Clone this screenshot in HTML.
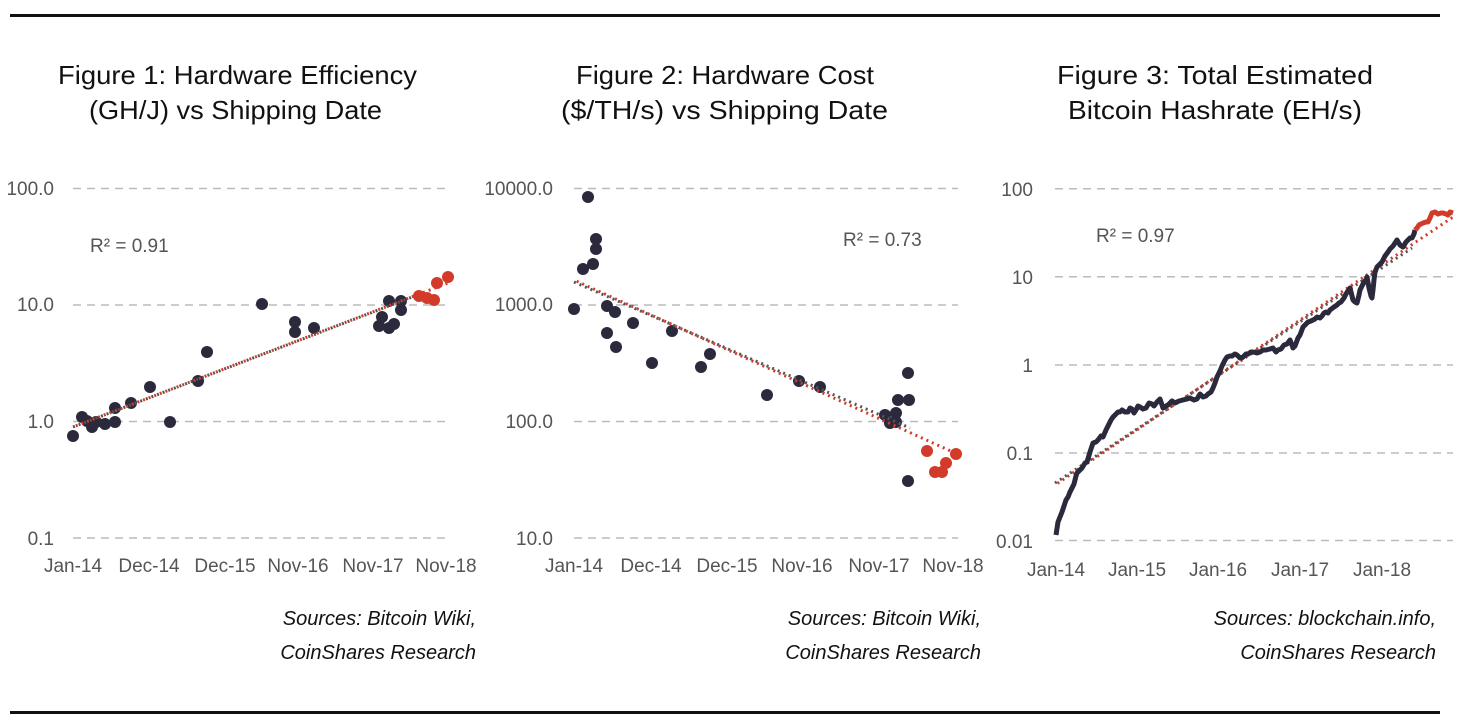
<!DOCTYPE html>
<html><head><meta charset="utf-8"><style>
html,body{margin:0;padding:0;background:#fff;}
svg{display:block;font-family:"Liberation Sans",sans-serif;}
.t{font-size:26px;fill:#111;}
.k{font-size:19px;fill:#555;}
.s{font-size:20px;fill:#111;font-style:italic;}
.g{stroke:#bbb;stroke-width:1.5;stroke-dasharray:8,6;}
.d{fill:#2b2a3d;}
.r{fill:#d23b2a;}
</style></head><body>
<svg width="1462" height="728" viewBox="0 0 1462 728">
<line x1="10" y1="15.5" x2="1440" y2="15.5" stroke="#111" stroke-width="3"/>
<line x1="10" y1="712.5" x2="1440" y2="712.5" stroke="#111" stroke-width="3"/>

<text class="t" x="58" y="84" textLength="359" lengthAdjust="spacingAndGlyphs">Figure 1: Hardware Efficiency</text>
<text class="t" x="89" y="119" textLength="293" lengthAdjust="spacingAndGlyphs">(GH/J) vs Shipping Date</text>
<text class="t" x="576" y="84" textLength="298" lengthAdjust="spacingAndGlyphs">Figure 2: Hardware Cost</text>
<text class="t" x="561" y="119" textLength="327" lengthAdjust="spacingAndGlyphs">($/TH/s) vs Shipping Date</text>
<text class="t" x="1057" y="84" textLength="316" lengthAdjust="spacingAndGlyphs">Figure 3: Total Estimated</text>
<text class="t" x="1068" y="119" textLength="294" lengthAdjust="spacingAndGlyphs">Bitcoin Hashrate (EH/s)</text>

<g>
<line class="g" x1="73" y1="188.5" x2="450" y2="188.5"/>
<line class="g" x1="73" y1="305" x2="450" y2="305"/>
<line class="g" x1="73" y1="421.5" x2="450" y2="421.5"/>
<line class="g" x1="73" y1="538" x2="450" y2="538"/>
<g class="k" text-anchor="end">
<text x="54" y="195">100.0</text><text x="54" y="311">10.0</text><text x="54" y="428">1.0</text><text x="54" y="545">0.1</text>
</g>
<g class="k" text-anchor="middle">
<text x="73" y="572">Jan-14</text><text x="149" y="572">Dec-14</text><text x="225" y="572">Dec-15</text><text x="298" y="572">Nov-16</text><text x="373" y="572">Nov-17</text><text x="446" y="572">Nov-18</text>
</g>
<text class="k" x="90" y="252">R² = 0.91</text>
<g class="d">
<circle cx="73" cy="436" r="6"/><circle cx="82" cy="417" r="6"/><circle cx="87" cy="421" r="6"/><circle cx="92" cy="427" r="6"/><circle cx="96" cy="422" r="6"/><circle cx="105" cy="424" r="6"/><circle cx="115" cy="408" r="6"/><circle cx="115" cy="422" r="6"/><circle cx="131" cy="403" r="6"/><circle cx="150" cy="387" r="6"/><circle cx="170" cy="422" r="6"/><circle cx="198" cy="381" r="6"/><circle cx="207" cy="352" r="6"/><circle cx="262" cy="304" r="6"/><circle cx="295" cy="322" r="6"/><circle cx="295" cy="332" r="6"/><circle cx="314" cy="328" r="6"/><circle cx="379" cy="326" r="6"/><circle cx="382" cy="317" r="6"/><circle cx="389" cy="328" r="6"/><circle cx="394" cy="324" r="6"/><circle cx="389" cy="301" r="6"/><circle cx="401" cy="301" r="6"/><circle cx="401" cy="310" r="6"/>
</g>
<line x1="73" y1="427" x2="420" y2="294" stroke="#555" stroke-width="3" stroke-dasharray="2,4"/>
<line x1="73" y1="427" x2="448" y2="283" stroke="#d23b2a" stroke-width="3" stroke-dasharray="2,4" stroke-dashoffset="3"/>
<g class="r">
<circle cx="419" cy="296" r="6"/><circle cx="427" cy="298" r="6"/><circle cx="434" cy="300" r="6"/><circle cx="437" cy="283" r="6"/><circle cx="448" cy="277" r="6"/>
</g>
<text class="s" x="476" y="625" text-anchor="end">Sources: Bitcoin Wiki,</text>
<text class="s" x="476" y="659" text-anchor="end">CoinShares Research</text>
</g>

<g>
<line class="g" x1="574" y1="188.5" x2="958" y2="188.5"/>
<line class="g" x1="574" y1="305" x2="958" y2="305"/>
<line class="g" x1="574" y1="421.5" x2="958" y2="421.5"/>
<line class="g" x1="574" y1="538" x2="958" y2="538"/>
<g class="k" text-anchor="end">
<text x="553" y="195">10000.0</text><text x="553" y="311">1000.0</text><text x="553" y="428">100.0</text><text x="553" y="545">10.0</text>
</g>
<g class="k" text-anchor="middle">
<text x="574" y="572">Jan-14</text><text x="651" y="572">Dec-14</text><text x="727" y="572">Dec-15</text><text x="802" y="572">Nov-16</text><text x="879" y="572">Nov-17</text><text x="953" y="572">Nov-18</text>
</g>
<text class="k" x="843" y="246">R² = 0.73</text>
<g class="d">
<circle cx="574" cy="309" r="6"/><circle cx="583" cy="269" r="6"/><circle cx="588" cy="197" r="6"/><circle cx="593" cy="264" r="6"/><circle cx="596" cy="249" r="6"/><circle cx="596" cy="239" r="6"/><circle cx="607" cy="306" r="6"/><circle cx="615" cy="312" r="6"/><circle cx="607" cy="333" r="6"/><circle cx="616" cy="347" r="6"/><circle cx="633" cy="323" r="6"/><circle cx="652" cy="363" r="6"/><circle cx="672" cy="331" r="6"/><circle cx="701" cy="367" r="6"/><circle cx="710" cy="354" r="6"/><circle cx="767" cy="395" r="6"/><circle cx="799" cy="381" r="6"/><circle cx="820" cy="387" r="6"/><circle cx="885" cy="415" r="6"/><circle cx="890" cy="423" r="6"/><circle cx="896" cy="413" r="6"/><circle cx="896" cy="422" r="6"/><circle cx="898" cy="400" r="6"/><circle cx="909" cy="400" r="6"/><circle cx="908" cy="373" r="6"/><circle cx="908" cy="481" r="6"/>
</g>
<line x1="574" y1="282" x2="910" y2="428" stroke="#555" stroke-width="3" stroke-dasharray="2,4"/>
<line x1="574" y1="280" x2="955" y2="453" stroke="#d23b2a" stroke-width="3" stroke-dasharray="2,4" stroke-dashoffset="3"/>
<g class="r">
<circle cx="927" cy="451" r="6"/><circle cx="935" cy="472" r="6"/><circle cx="942" cy="472" r="6"/><circle cx="946" cy="463" r="6"/><circle cx="956" cy="454" r="6"/>
</g>
<text class="s" x="981" y="625" text-anchor="end">Sources: Bitcoin Wiki,</text>
<text class="s" x="981" y="659" text-anchor="end">CoinShares Research</text>
</g>

<g>
<line class="g" x1="1055" y1="188.7" x2="1453" y2="188.7"/>
<line class="g" x1="1055" y1="276.7" x2="1453" y2="276.7"/>
<line class="g" x1="1055" y1="365" x2="1453" y2="365"/>
<line class="g" x1="1055" y1="453" x2="1453" y2="453"/>
<line class="g" x1="1055" y1="540.5" x2="1453" y2="540.5"/>
<g class="k" text-anchor="end">
<text x="1033" y="196">100</text><text x="1033" y="284">10</text><text x="1033" y="372">1</text><text x="1033" y="460">0.1</text><text x="1033" y="548">0.01</text>
</g>
<g class="k" text-anchor="middle">
<text x="1056" y="576">Jan-14</text><text x="1137" y="576">Jan-15</text><text x="1218" y="576">Jan-16</text><text x="1300" y="576">Jan-17</text><text x="1382" y="576">Jan-18</text>
</g>
<text class="k" x="1096" y="242">R² = 0.97</text>
<line x1="1055" y1="483" x2="1412" y2="248" stroke="#555" stroke-width="3" stroke-dasharray="2,4"/>
<line x1="1055" y1="485" x2="1453" y2="217" stroke="#d23b2a" stroke-width="3" stroke-dasharray="2,4" stroke-dashoffset="3"/>
<polyline fill="none" stroke="#2b2a3d" stroke-width="5" stroke-linejoin="round" points="1056,535 1058,522 1060,517 1062,512 1064,506 1066,500 1068,497 1070,492 1071,490 1073,486 1074,484 1076,476 1077,473 1080,470 1082,468 1085,463 1087,462 1090,452 1093,443 1096,442 1098,440 1101,436 1103,437 1106,430 1108,426 1111,420 1113,417 1116,414 1118,412 1120,412 1122,410 1125,412 1128,412 1130,408 1132,409 1134,413 1136,410 1138,406 1140,407 1143,409 1146,408 1149,403 1152,404 1154,406 1157,402 1160,399 1163,408 1166,406 1168,405 1172,401 1175,403 1179,401 1183,400 1187,399 1190,398 1194,400 1197,399 1200,394 1203,397 1206,396 1208,394 1211,392 1213,388 1215,383 1217,377 1220,371 1222,366 1225,360 1227,357 1230,356 1232,356 1235,354 1237,355 1240,358 1243,357 1246,354 1248,354 1251,352 1253,352 1257,353 1260,352 1263,350 1266,350 1270,349 1273,348 1276,352 1278,350 1281,349 1284,345 1287,344 1290,340 1293,348 1295,346 1298,338 1300,335 1303,327 1306,324 1308,322 1311,321 1313,320 1315,319 1317,317 1320,318 1322,316 1324,313 1326,312 1328,313 1330,310 1334,307 1337,305 1339,303 1341,302 1344,298 1346,294 1348,291 1350,288 1352,296 1353,300 1355,302 1357,303 1359,295 1360,290 1362,286 1364,282 1366,280 1367,277 1369,288 1370,292 1371,296 1372,298 1373,290 1374,280 1375,272 1377,267 1380,264 1382,262 1385,256 1388,252 1390,249 1393,246 1395,243 1397,240 1400,245 1403,247 1406,242 1408,240 1410,238 1412,238 1414,234 1415,230"/>
<polyline fill="none" stroke="#d23b2a" stroke-width="5" stroke-linejoin="round" points="1415,230 1417,228 1419,225 1421,224 1423,223 1426,222 1428,222 1430,218 1432,213 1435,212 1438,214 1441,213 1443,213 1446,214 1448,215 1450,212 1453,213"/>
<text class="s" x="1436" y="625" text-anchor="end">Sources: blockchain.info,</text>
<text class="s" x="1436" y="659" text-anchor="end">CoinShares Research</text>
</g>
</svg>
</body></html>
